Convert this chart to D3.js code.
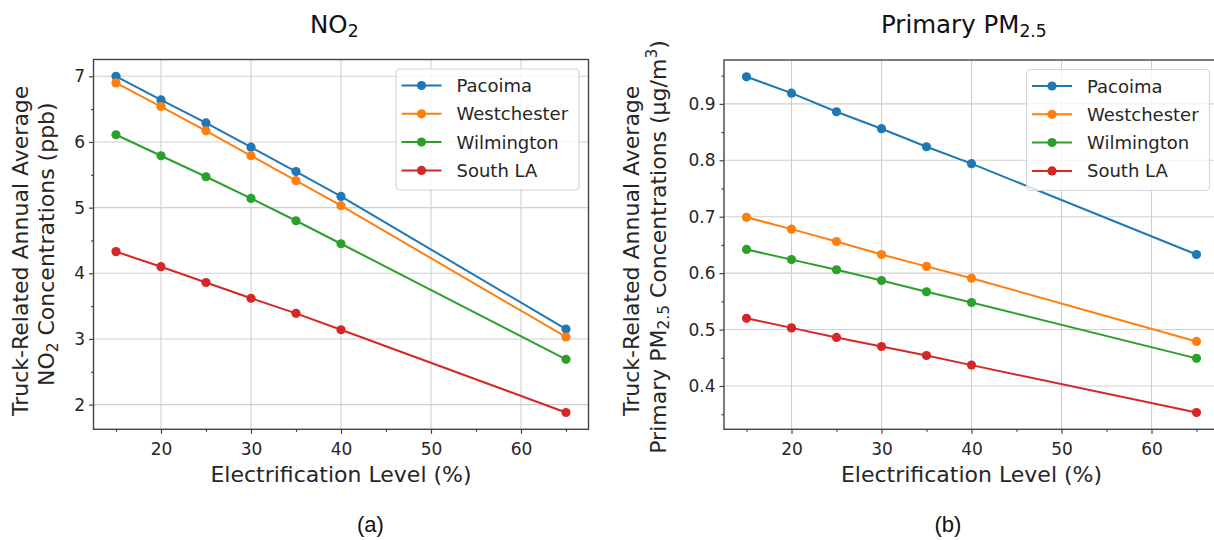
<!DOCTYPE html>
<html>
<head>
<meta charset="utf-8">
<script src="https://cdn.jsdelivr.net/npm/d3@7"></script>
<style>
  body { margin: 0; background: #fff; }
  svg { display: block; font-family: "DejaVu Sans", sans-serif; }
</style>
</head>
<body>
<svg id="chart" width="1214" height="540"></svg>
<script>
// Electrification levels (%) on the x axis
const levels = [15, 20, 25, 30, 35, 40, 65];
const sites = ["Pacoima", "Westchester", "Wilmington", "South LA"];
const siteColors = ["#1f77b4", "#ff7f0e", "#2ca02c", "#d62728"];

// Truck-related annual average NO2 (ppb)
const no2Pacoima     = [7.00, 6.64, 6.29, 5.92, 5.55, 5.17, 3.15];
const no2Westchester = [6.90, 6.54, 6.17, 5.79, 5.41, 5.03, 3.03];
const no2Wilmington  = [6.11, 5.79, 5.47, 5.14, 4.80, 4.45, 2.69];
const no2SouthLA     = [4.33, 4.10, 3.86, 3.62, 3.39, 3.14, 1.88];

// Truck-related annual average primary PM2.5 (µg/m3)
const pmPacoima     = [0.948, 0.919, 0.886, 0.856, 0.824, 0.794, 0.633];
const pmWestchester = [0.699, 0.678, 0.656, 0.633, 0.612, 0.591, 0.479];
const pmWilmington  = [0.642, 0.624, 0.606, 0.587, 0.567, 0.548, 0.449];
const pmSouthLA     = [0.520, 0.503, 0.486, 0.470, 0.454, 0.437, 0.353];

// Tick values
const xTicks = [20, 30, 40, 50, 60];
const xMinorTicks = [15, 25, 35, 45, 55, 65];
const no2Ticks = [2, 3, 4, 5, 6, 7];
const no2MinorTicks = [2.5, 3.5, 4.5, 5.5, 6.5];
const pmTicks = [0.4, 0.5, 0.6, 0.7, 0.8, 0.9];
const pmMinorTicks = [0.35, 0.45, 0.55, 0.65, 0.75, 0.85, 0.95];

const svg = d3.select("#chart");

// Writes text made of runs: 0 = normal, -1 = subscript, 1 = superscript
function richText(textSel, runs, size) {
  let shift = 0;
  runs.forEach(([str, kind]) => {
    const target = kind === -1 ? size * 0.17 : kind === 1 ? -size * 0.38 : 0;
    textSel.append("tspan")
      .attr("dy", target - shift)
      .attr("font-size", kind === 0 ? size : size * 0.7)
      .text(str);
    shift = target;
  });
}

function padDomain(values) {
  const [lo, hi] = d3.extent(values);
  const pad = (hi - lo) * 0.05;
  return [lo - pad, hi + pad];
}

function drawPanel(opt) {
  const g = svg.append("g");
  const x = d3.scaleLinear().domain(padDomain(levels)).range([opt.left, opt.left + 495]);
  const allVals = opt.series.flat();
  const y = d3.scaleLinear().domain(padDomain(allVals)).range([opt.bottom, opt.top]);

  // grid
  g.append("g").selectAll("line").data(xTicks).join("line")
    .attr("x1", d => x(d)).attr("x2", d => x(d))
    .attr("y1", opt.top).attr("y2", opt.bottom)
    .attr("stroke", "#cfcfcf").attr("stroke-width", 1.1);
  g.append("g").selectAll("line").data(opt.yTicks).join("line")
    .attr("x1", opt.left).attr("x2", opt.left + 495)
    .attr("y1", d => y(d)).attr("y2", d => y(d))
    .attr("stroke", "#cfcfcf").attr("stroke-width", 1.1);

  // axes
  const styleAxis = sel => {
    sel.select(".domain").remove();
    sel.selectAll(".tick line").attr("stroke", "#444").attr("stroke-width", 1.2);
    sel.selectAll(".tick text").attr("fill", "#262626")
      .attr("font-family", "DejaVu Sans").attr("font-size", 17);
  };
  g.append("g").attr("transform", `translate(0,${opt.bottom})`)
    .call(d3.axisBottom(x).tickValues(xTicks).tickFormat(d3.format("d")).tickSize(4.5).tickPadding(9))
    .call(styleAxis);
  g.append("g").attr("transform", `translate(0,${opt.bottom})`)
    .call(d3.axisBottom(x).tickValues(xMinorTicks).tickFormat("").tickSize(2.5))
    .call(styleAxis);
  g.append("g").attr("transform", `translate(${opt.left},0)`)
    .call(d3.axisLeft(y).tickValues(opt.yTicks).tickFormat(d3.format(opt.yFormat)).tickSize(4.5).tickPadding(4))
    .call(styleAxis);
  g.append("g").attr("transform", `translate(${opt.left},0)`)
    .call(d3.axisLeft(y).tickValues(opt.yMinor).tickFormat("").tickSize(2.5))
    .call(styleAxis);

  // series
  const line = d3.line().x((d, i) => x(levels[i])).y(d => y(d));
  opt.series.forEach((vals, k) => {
    const s = g.append("g");
    s.append("path").datum(vals).attr("d", line)
      .attr("fill", "none").attr("stroke", siteColors[k]).attr("stroke-width", 2);
    s.selectAll("circle").data(vals).join("circle")
      .attr("cx", (d, i) => x(levels[i])).attr("cy", d => y(d))
      .attr("r", 4.6).attr("fill", siteColors[k]);
  });

  // frame
  g.append("rect").attr("x", opt.left).attr("y", opt.top)
    .attr("width", 495).attr("height", opt.bottom - opt.top)
    .attr("fill", "none").attr("stroke", "#444").attr("stroke-width", 1.4);

  // legend
  const lx = opt.left + 495 - 9.5 - 183, ly = opt.top + 9.5;
  const lg = g.append("g");
  lg.append("rect").attr("x", lx).attr("y", ly).attr("width", 183).attr("height", 121)
    .attr("rx", 4).attr("fill", "#fff").attr("fill-opacity", 0.8)
    .attr("stroke", "#d6d6d6").attr("stroke-width", 1.2);
  sites.forEach((name, k) => {
    const ry = ly + 16.5 + k * 28.3;
    lg.append("line").attr("x1", lx + 5.5).attr("x2", lx + 45.5).attr("y1", ry).attr("y2", ry)
      .attr("stroke", siteColors[k]).attr("stroke-width", 2);
    lg.append("circle").attr("cx", lx + 25.5).attr("cy", ry).attr("r", 4.6).attr("fill", siteColors[k]);
    lg.append("text").attr("x", lx + 60.5).attr("y", ry + 6.5)
      .attr("font-size", 18).attr("fill", "#262626").text(name);
  });

  // x label
  g.append("text").attr("x", opt.left + 247.5).attr("y", 481.7)
    .attr("text-anchor", "middle").attr("font-size", 22).attr("fill", "#262626")
    .text("Electrification Level (%)");

  // y label (two lines)
  const yl1 = g.append("text")
    .attr("transform", `translate(${opt.left - opt.yl1Off},250.8) rotate(-90)`)
    .attr("text-anchor", "middle").attr("fill", "#262626");
  richText(yl1, [["Truck-Related Annual Average", 0]], 22);
  const yl2 = g.append("text")
    .attr("transform", `translate(${opt.left - opt.yl2Off},${opt.yl2Center}) rotate(-90)`)
    .attr("text-anchor", "middle").attr("fill", "#262626");
  richText(yl2, opt.yl2Runs, 22);

  // title
  const t = g.append("text").attr("x", opt.titleX).attr("y", 32.5).attr("fill", "#111");
  richText(t, opt.titleRuns, 24.5);

  // caption
  g.append("text").attr("x", opt.captionX).attr("y", 532)
    .attr("text-anchor", "middle").attr("font-family", "Liberation Sans, Arial, sans-serif")
    .attr("font-size", 22).attr("fill", "#111").text(opt.caption);
}

drawPanel({
  left: 93.5, top: 59.5, bottom: 429.3,
  series: [no2Pacoima, no2Westchester, no2Wilmington, no2SouthLA],
  yTicks: no2Ticks, yMinor: no2MinorTicks, yFormat: "d",
  yl1Off: 65.5, yl2Off: 39.2, yl2Center: 244.2,
  yl2Runs: [["NO", 0], ["2", -1], [" Concentrations (ppb)", 0]],
  titleX: 310, titleRuns: [["NO", 0], ["2", -1]],
  captionX: 370.5, caption: "(a)"
});

drawPanel({
  left: 724, top: 60, bottom: 429.3,
  series: [pmPacoima, pmWestchester, pmWilmington, pmSouthLA],
  yTicks: pmTicks, yMinor: pmMinorTicks, yFormat: ".1f",
  yl1Off: 85.5, yl2Off: 58.5, yl2Center: 247,
  yl2Runs: [["Primary PM", 0], ["2.5", -1], [" Concentrations (\u00b5g/m", 0], ["3", 1], [")", 0]],
  titleX: 881, titleRuns: [["Primary PM", 0], ["2.5", -1]],
  captionX: 948, caption: "(b)"
});
</script>
</body>
</html>
